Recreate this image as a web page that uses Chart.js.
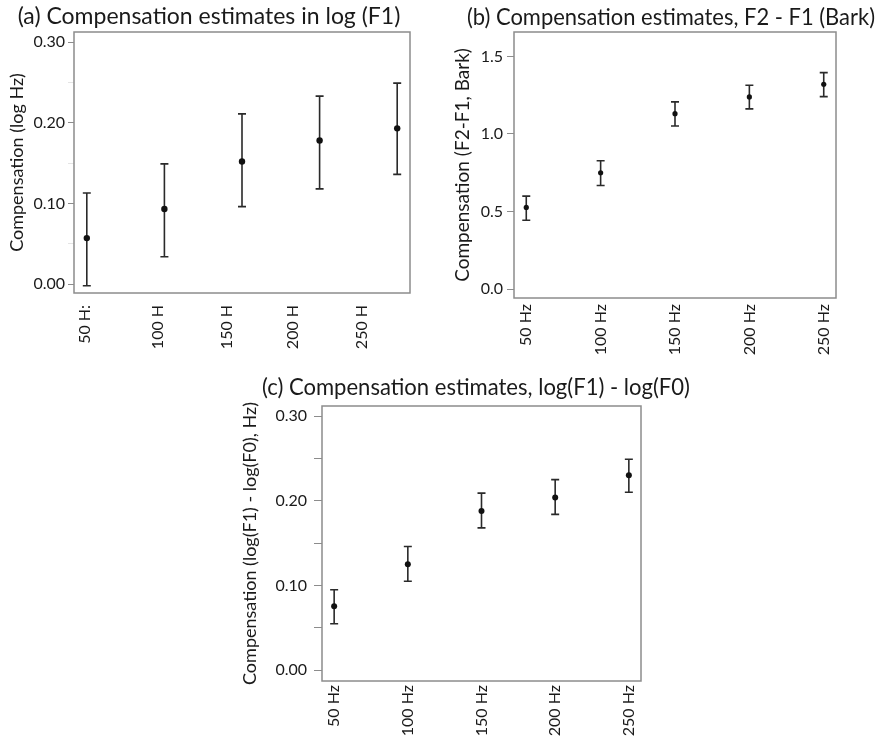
<!DOCTYPE html>
<html>
<head>
<meta charset="utf-8">
<script src="https://cdn.jsdelivr.net/npm/chart.js@4.4.1/dist/chart.umd.min.js"></script>
<style>
  html, body { margin: 0; padding: 0; background: #fff; overflow: hidden; }
  .panel { position: absolute; }
</style>
</head>
<body>
<div class="panel" style="left:0;top:0;width:425px;height:362px"><canvas id="chartA"></canvas></div>
<div class="panel" style="left:440px;top:0;width:436px;height:362px"><canvas id="chartB"></canvas></div>
<div class="panel" style="left:236px;top:362px;width:470px;height:380px"><canvas id="chartC"></canvas></div>
<script>
// categories and tick labels
var categories = ['50 Hz', '100 Hz', '150 Hz', '200 Hz', '250 Hz'];
var aLabels = ['50 H:', '100 H', '150 H', '200 H', '250 H'];   // clipped labels as printed in panel (a)
var aLabelAt = [0.98, 1.91, 2.81, 3.66, 4.55];                  // panel (a) labels sit off the points
var aYTicks = [0, 0.05, 0.10, 0.15, 0.20, 0.25, 0.30];
var bYTicks = [0, 0.5, 1.0, 1.5];
var cYTicks = [0, 0.05, 0.10, 0.15, 0.20, 0.25, 0.30];

// (a) log(F1)
var aMean = [0.057, 0.093, 0.152, 0.178, 0.193];
var aLow  = [-0.002, 0.034, 0.096, 0.118, 0.136];
var aHigh = [0.113, 0.149, 0.211, 0.233, 0.249];

// (b) F2 - F1 (Bark)
var bMean = [0.526, 0.750, 1.131, 1.239, 1.321];
var bLow  = [0.444, 0.668, 1.052, 1.162, 1.241];
var bHigh = [0.599, 0.827, 1.207, 1.314, 1.396];

// (c) log(F1) - log(F0)
var cMean = [0.0755, 0.125, 0.188, 0.204, 0.230];
var cLow  = [0.055, 0.105, 0.168, 0.184, 0.210];
var cHigh = [0.095, 0.146, 0.209, 0.225, 0.249];

Chart.defaults.font.family = 'Lato, "Open Sans", sans-serif';
Chart.defaults.color = '#1a1a1a';

var errorBars = {
    id: 'errorBars',
    beforeDatasetsDraw: function(chart, args, opts) {
        var ctx = chart.ctx;
        var xs = chart.scales.x, ys = chart.scales.y;
        var cap = opts.cap || 4;
        chart.data.datasets.forEach(function(ds) {
            ctx.save();
            ctx.strokeStyle = opts.color || '#333';
            ctx.lineWidth = opts.width || 1.5;
            ds.data.forEach(function(p, i) {
                var x = xs.getPixelForValue(p.x);
                var y1 = ys.getPixelForValue(ds.low[i]);
                var y2 = ys.getPixelForValue(ds.high[i]);
                ctx.beginPath();
                ctx.moveTo(x, y1); ctx.lineTo(x, y2);
                ctx.moveTo(x - cap, y1); ctx.lineTo(x + cap, y1);
                ctx.moveTo(x - cap, y2); ctx.lineTo(x + cap, y2);
                ctx.stroke();
            });
            ctx.restore();
        });
    }
};

var frameAndTitle = {
    id: 'frameAndTitle',
    afterDraw: function(chart, args, opts) {
        var ctx = chart.ctx, a = chart.chartArea;
        ctx.save();
        ctx.strokeStyle = '#8c8c8c';
        ctx.lineWidth = 1.5;
        ctx.strokeRect(a.left, a.top, a.right - a.left, a.bottom - a.top);
        ctx.fillStyle = '#1a1a1a';
        ctx.font = '23px Lato, "Open Sans", sans-serif';
        ctx.textAlign = 'center';
        ctx.textBaseline = 'alphabetic';
        if (opts.maxWidth) {
            ctx.fillText(opts.text, opts.x, opts.y, opts.maxWidth);
        } else {
            ctx.fillText(opts.text, opts.x, opts.y);
        }
        ctx.restore();
    }
};

function points(mean) {
    return mean.map(function(v, i) { return { x: i + 1, y: v }; });
}

function panel(el, cfg) {
    return new Chart(el.getContext('2d'), {
        type: 'scatter',
        data: {
            datasets: [{
                data: points(cfg.mean),
                low: cfg.low,
                high: cfg.high,
                pointRadius: cfg.radius,
                pointBackgroundColor: '#111',
                pointBorderWidth: 0,
                showLine: false
            }]
        },
        options: {
            responsive: true,
            maintainAspectRatio: false,
            animation: false,
            layout: { padding: { top: cfg.top, right: cfg.right, left: 0, bottom: 0 } },
            plugins: {
                legend: { display: false },
                tooltip: { enabled: false },
                errorBars: { cap: 4, width: 1.6, color: '#2a2a2a' },
                frameAndTitle: cfg.title
            },
            scales: {
                x: {
                    type: 'linear',
                    min: 0.835,
                    max: 5.165,
                    grid: { display: false, drawTicks: false },
                    border: { display: false },
                    afterBuildTicks: function(scale) {
                        scale.ticks = cfg.xAt.map(function(v) { return { value: v }; });
                    },
                    afterFit: function(scale) { scale.height = cfg.xHeight; },
                    ticks: {
                        autoSkip: false,
                        minRotation: 90,
                        maxRotation: 90,
                        padding: cfg.xPad,
                        font: { size: 16 },
                        callback: function(v, i) { return cfg.xLabels[i]; }
                    }
                },
                y: {
                    min: cfg.yMin,
                    max: cfg.yMax,
                    border: { display: false },
                    grid: {
                        drawOnChartArea: false,
                        tickLength: cfg.tickLen,
                        color: function(c) {
                            return cfg.yLabel(c.tick.value) === '' ? cfg.minorColor : '#8c8c8c';
                        }
                    },
                    afterBuildTicks: function(scale) {
                        scale.ticks = cfg.yTicks.map(function(v) { return { value: v }; });
                    },
                    afterFit: function(scale) { scale.width = cfg.yWidth; },
                    ticks: {
                        padding: cfg.yPad,
                        font: { size: 16 },
                        callback: function(v) { return cfg.yLabel(v); }
                    },
                    title: {
                        display: true,
                        text: cfg.yTitle,
                        font: { size: cfg.yTitleSize },
                        padding: { top: cfg.yTitlePad, bottom: 0 }
                    }
                }
            }
        },
        plugins: [errorBars, frameAndTitle]
    });
}

function twoDec(v) {
    var r = Math.round(v * 100);
    return r % 10 === 0 ? v.toFixed(2) : '';
}
function oneDec(v) { return v.toFixed(1); }

panel(document.getElementById('chartA'), {
    mean: aMean, low: aLow, high: aHigh, radius: 3.2,
    top: 32, right: 15, yWidth: 74, xHeight: 69, xPad: 12,
    yMin: -0.011, yMax: 0.3124, yTicks: aYTicks, yLabel: twoDec,
    tickLen: 6, yPad: 3, minorColor: '#e4e4e4',
    xAt: aLabelAt, xLabels: aLabels,
    yTitle: 'Compensation (log Hz)', yTitlePad: 6, yTitleSize: 18,
    title: { text: '(a) Compensation estimates in log (F1)', x: 209, y: 24 }
});

panel(document.getElementById('chartB'), {
    mean: bMean, low: bLow, high: bHigh, radius: 2.6,
    top: 32, right: 40, yWidth: 74, xHeight: 64, xPad: 6,
    yMin: -0.058, yMax: 1.658, yTicks: bYTicks, yLabel: oneDec,
    tickLen: 7, yPad: 4, minorColor: '#8c8c8c',
    xAt: [1, 2, 3, 4, 5], xLabels: categories,
    yTitle: 'Compensation (F2-F1, Bark)', yTitlePad: 11, yTitleSize: 19,
    title: { text: '(b) Compensation estimates, F2 - F1 (Bark)', x: 231, y: 25, maxWidth: 408 }
});

panel(document.getElementById('chartC'), {
    mean: cMean, low: cLow, high: cHigh, radius: 3,
    top: 44, right: 65, yWidth: 86, xHeight: 61, xPad: 4,
    yMin: -0.0126, yMax: 0.3118, yTicks: cYTicks, yLabel: twoDec,
    tickLen: 8, yPad: 7, minorColor: '#8c8c8c',
    xAt: [1, 2, 3, 4, 5], xLabels: categories,
    yTitle: 'Compensation (log(F1) - log(F0), Hz)', yTitlePad: 3, yTitleSize: 18,
    title: { text: '(c) Compensation estimates, log(F1) - log(F0)', x: 240, y: 33, maxWidth: 428 }
});
</script>
</body>
</html>
